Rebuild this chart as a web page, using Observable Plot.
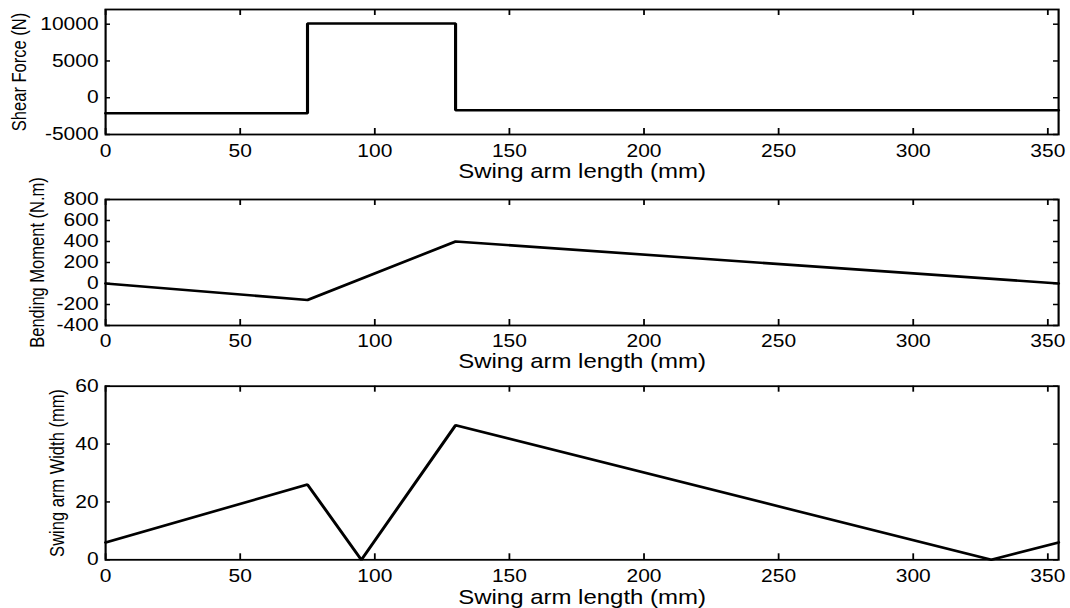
<!DOCTYPE html>
<html><head><meta charset="utf-8">
<script src="https://cdn.jsdelivr.net/npm/d3@7"></script>
<script src="https://cdn.jsdelivr.net/npm/@observablehq/plot@0.6"></script>
<style>body{margin:0;background:#fff} #chart svg{display:block;overflow:visible}</style>
</head><body><div id="chart"></div>
<script>
// Data
const xTicks = [0, 50, 100, 150, 200, 250, 300, 350];
const xLabel = "Swing arm length (mm)";

const shearX = [0, 75, 75, 130, 130, 354];
const shearY = [-2100, -2100, 10100, 10100, -1700, -1700];
const shearTicks = [-5000, 0, 5000, 10000];
const shearLabel = "Shear Force (N)";

const momentX = [0, 75, 130, 354];
const momentY = [0, -157, 400, 0];
const momentTicks = [-400, -200, 0, 200, 400, 600, 800];
const momentLabel = "Bending Moment (N.m)";

const widthX = [0, 75, 95, 130, 329, 354];
const widthY = [6, 26, 0, 46.5, 0, 6];
const widthTicks = [0, 20, 40, 60];
const widthLabel = "Swing arm Width (mm)";

const TARGET_W = 1070;
const W = 892;
const S = TARGET_W / W;
const ML = 105 / S;
const MR = 12 / S;

function panel({xs, ys, yDomain, yTicks, yLabel, height, mt, mb, xPad, xTitleDy, yTitleDx}) {
  const pts = xs.map((x, i) => ({x, y: ys[i]}));
  const innerH = height - mt - mb;
  const innerW = W - ML - MR;
  const tickLenX = 6;
  const tickLenY = 5 / S;
  const svg = Plot.plot({
    width: W, height,
    marginLeft: ML, marginRight: MR, marginTop: mt, marginBottom: mb,
    style: {fontFamily: "'Liberation Sans', Arial, sans-serif", color: "black", background: "transparent", overflow: "visible"},
    x: {domain: [0, 354]},
    y: {domain: yDomain},
    marks: [
      Plot.tickX(xTicks, {x: d => d, insetTop: innerH - tickLenX, stroke: "black", strokeWidth: 1.5}),
      Plot.tickX(xTicks, {x: d => d, insetBottom: innerH - tickLenX, stroke: "black", strokeWidth: 1.5}),
      Plot.tickY(yTicks, {y: d => d, insetRight: innerW - tickLenY, stroke: "black", strokeWidth: 1.5}),
      Plot.tickY(yTicks, {y: d => d, insetLeft: innerW - tickLenY, stroke: "black", strokeWidth: 1.5}),
      Plot.line(pts, {x: "x", y: "y", stroke: "black", strokeWidth: 2.6, strokeLinejoin: "miter"}),
      Plot.frame({stroke: "black", strokeWidth: 1.8}),
      Plot.axisX({ticks: xTicks, tickSize: 0, tickPadding: xPad, fontSize: 17.5, label: null, tickFormat: d => String(d)}),
      Plot.axisY({ticks: yTicks, tickSize: 0, tickPadding: 7 / S, fontSize: 17.5, label: null, tickFormat: d => String(d)}),
      Plot.text([xLabel], {text: d => d, frameAnchor: "bottom", textAnchor: "middle", lineAnchor: "middle", dy: xTitleDy, fontSize: 20, fill: "black"}),
      Plot.text([yLabel], {text: d => d, frameAnchor: "left", textAnchor: "middle", lineAnchor: "middle", dx: yTitleDx, rotate: -90, fontSize: 16.5, fill: "black"})
    ]
  });
  svg.setAttribute("width", TARGET_W);
  svg.setAttribute("height", height);
  svg.setAttribute("preserveAspectRatio", "none");
  svg.style.width = TARGET_W + "px";
  svg.style.height = height + "px";
  svg.style.maxWidth = "none";
  svg.style.overflow = "visible";
  svg.style.background = "transparent";
  return svg;
}

const chart = document.getElementById("chart");
chart.appendChild(panel({xs: shearX, ys: shearY, yDomain: [-5000, 12000], yTicks: shearTicks, yLabel: shearLabel,
  height: 190, mt: 9, mb: 56, xPad: 9.8, xTitleDy: 37, yTitleDx: 15.8 - ML}));
chart.appendChild(panel({xs: momentX, ys: momentY, yDomain: [-400, 800], yTicks: momentTicks, yLabel: momentLabel,
  height: 186, mt: 9, mb: 51, xPad: 9.5, xTitleDy: 36.5, yTitleDx: 30.8 - ML}));
chart.appendChild(panel({xs: widthX, ys: widthY, yDomain: [0, 60], yTicks: widthTicks, yLabel: widthLabel,
  height: 232, mt: 9.7, mb: 48.7, xPad: 9.8, xTitleDy: 37.5, yTitleDx: 47.9 - ML}));
</script></body></html>
